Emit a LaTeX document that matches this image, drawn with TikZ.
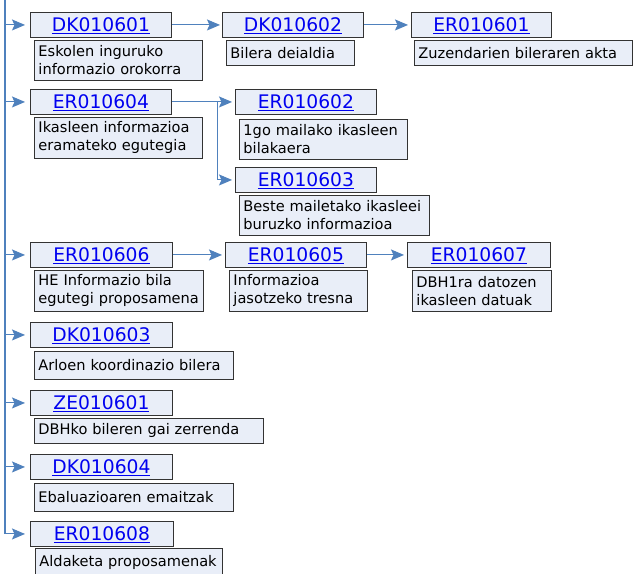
\documentclass[tikz,border=0pt]{standalone}
\usepackage{fontspec}
\setmainfont{DejaVu Sans}
\usetikzlibrary{arrows.meta}
\definecolor{linec}{HTML}{4F81BD}
\definecolor{boxf}{HTML}{E9EEF8}
\definecolor{boxd}{HTML}{333333}
\definecolor{lnk}{HTML}{0000F0}
\newcommand\idtxt[1]{\underline{#1}}
\begin{document}
\begin{tikzpicture}[x=1pt,y=1pt,
 idbox/.style={draw=boxd, fill=boxf, line width=0.9pt, anchor=north west, inner sep=0pt,
   minimum height=25pt, text height=19pt, text depth=6pt, text=lnk,
   font=\fontsize{18.7}{20}\selectfont},
 descbox/.style={draw=boxd, fill=boxf, line width=0.9pt, anchor=north west,
   inner xsep=4pt, inner ysep=0pt, align=left, font=\fontsize{14.6}{18}\selectfont},
 arr/.style={draw=linec, line width=1pt, -{Stealth[length=13pt,width=11pt,inset=2.5pt]}, shorten >=3pt},
 trunk/.style={draw=linec, line width=1.7pt}
]
\useasboundingbox (0,0) rectangle (634,-573);
\fill[white] (0,0) rectangle (634,-573);

% row 1
\node[idbox, minimum width=141pt] (i1) at (30,-12) {\idtxt{DK010601}};
\node[descbox, text width=160pt, minimum height=40pt] (d1) at (34,-40) {Eskolen inguruko\\informazio orokorra};
\node[idbox, minimum width=141pt] (i2) at (222,-12) {\idtxt{DK010602}};
\node[descbox, text width=120pt, minimum height=25pt] (d2) at (226,-40) {Bilera deialdia};
\node[idbox, minimum width=140pt] (i3) at (411,-12) {\idtxt{ER010601}};
\node[descbox, text width=210pt, minimum height=25pt] (d3) at (414,-40) {Zuzendarien bileraren akta};

% row 2
\node[idbox, minimum width=141pt] (i4) at (30,-89) {\idtxt{ER010604}};
\node[descbox, text width=160pt, minimum height=41pt] (d4) at (34,-117) {Ikasleen informazioa\\eramateko egutegia};
\node[idbox, minimum width=141pt] (i5) at (235,-89) {\idtxt{ER010602}};
\node[descbox, text width=160pt, minimum height=40pt] (d5) at (239,-119) {1go mailako ikasleen\\bilakaera};
\node[idbox, minimum width=141pt] (i6) at (235,-167) {\idtxt{ER010603}};
\node[descbox, text width=182pt, minimum height=40pt] (d6) at (239,-195) {Beste mailetako ikasleei\\buruzko informazioa};

% row 3
\node[idbox, minimum width=142pt] (i7) at (30,-242) {\idtxt{ER010606}};
\node[descbox, text width=161pt, minimum height=41pt] (d7) at (34,-270) {HE Informazio bila\\egutegi proposamena};
\node[idbox, minimum width=141pt] (i8) at (225,-242) {\idtxt{ER010605}};
\node[descbox, text width=130pt, minimum height=41pt] (d8) at (229,-270) {Informazioa\\jasotzeko tresna};
\node[idbox, minimum width=143pt] (i9) at (407,-242) {\idtxt{ER010607}};
\node[descbox, text width=131pt, minimum height=41pt] (d9) at (412,-270) {DBH1ra datozen\\ikasleen datuak};

% rows 4-7
\node[idbox, minimum width=142pt] (i10) at (30,-322) {\idtxt{DK010603}};
\node[descbox, text width=191pt, minimum height=28pt] (d10) at (34,-351) {Arloen koordinazio bilera};
\node[idbox, minimum width=142pt] (i11) at (30,-390) {\idtxt{ZE010601}};
\node[descbox, text width=221pt, minimum height=25pt] (d11) at (34,-418) {DBHko bileren gai zerrenda};
\node[idbox, minimum width=142pt] (i12) at (30,-454) {\idtxt{DK010604}};
\node[descbox, text width=191pt, minimum height=28pt] (d12) at (34,-483) {Ebaluazioaren emaitzak};
\node[idbox, minimum width=143pt] (i13) at (30,-521) {\idtxt{ER010608}};
\node[descbox, text width=179pt, minimum height=28pt] (d13) at (35,-548) {Aldaketa proposamenak};

% trunk
\coordinate (top) at (5,0);
\draw[trunk] (top) -- (top |- i13.west);
\foreach \n in {i1,i4,i7,i10,i11,i12,i13}
  \draw[arr, shorten >=5pt] (top |- \n.west) -- (\n.west);

% horizontal connectors
\draw[arr, shorten >=2pt] (i1.east) -- (i2.west);
\draw[arr, shorten >=3pt] (i2.east) -- (i3.west);
\coordinate (br) at (217,-101.5);
\draw[arr] (i4.east) -- (i5.west);
\draw[arr] (br) |- (i6.west);
\draw[arr] (i7.east) -- (i8.west);
\draw[arr] (i8.east) -- (i9.west);
\end{tikzpicture}
\end{document}
